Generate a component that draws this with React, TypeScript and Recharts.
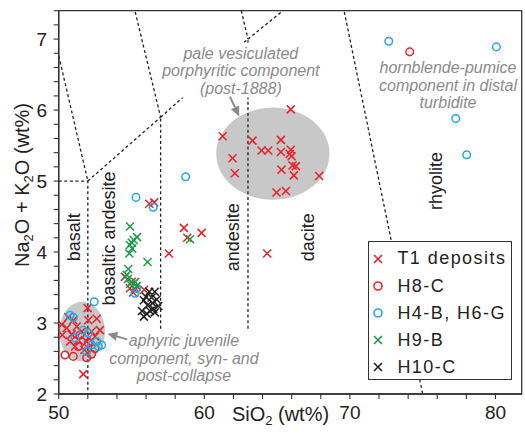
import React from 'react';
import {
  ScatterChart,
  Scatter,
  XAxis,
  YAxis,
  ReferenceLine,
  ReferenceArea,
  ReferenceDot,
  Legend,
  Label,
} from 'recharts';

const FONT = '"Liberation Sans", Arial, Helvetica, sans-serif';
const RED = '#e8212b';
const BLUE = '#2aa5df';
const GREEN = '#1c9a48';
const BLACK = '#231f20';
const GRAY_TEXT = '#8a8a8a';
const ELLIPSE_FILL = '#c8c8c8';
const AXIS = '#333333';

// ---- axes ----
const X_DOMAIN = [50, 81.8];
const Y_DOMAIN = [2, 7.4];
const xTicks = [50, 52, 54, 56, 58, 60, 62, 64, 66, 68, 70, 72, 74, 76, 78, 80];
const xTickLabels = [50, 60, 70, 80];
const yTicks = [
  2, 2.2, 2.4, 2.6, 2.8, 3, 3.2, 3.4, 3.6, 3.8, 4, 4.2, 4.4, 4.6, 4.8, 5, 5.2, 5.4,
  5.6, 5.8, 6, 6.2, 6.4, 6.6, 6.8, 7, 7.2, 7.4,
];
const yTickLabels = [2, 3, 4, 5, 6, 7];

// ---- series (SiO2 wt%, Na2O+K2O wt%) ----
const t1Deposits = [
  [51.99, 3.21], [50.66, 3.08], [51.0, 3.04], [50.21, 2.98], [52.03, 3.04], [52.61, 3.06],
  [50.55, 2.93], [51.24, 2.95], [51.58, 2.88], [50.25, 2.83], [50.89, 2.84], [52.26, 2.88],
  [52.83, 2.9], [50.78, 2.74], [51.35, 2.76], [51.92, 2.74], [52.49, 2.81], [51.12, 2.67],
  [51.76, 2.62], [51.69, 2.28],
  [56.22, 4.68], [56.56, 4.7], [54.55, 3.65], [55.01, 3.58], [54.89, 3.49], [55.24, 3.47],
  [55.87, 3.47], [55.12, 3.43],
  [58.6, 4.34], [59.81, 4.27], [58.83, 4.2], [57.57, 3.98], [64.32, 3.98],
  [65.94, 6.01], [61.26, 5.63], [63.31, 5.57], [65.26, 5.58], [63.93, 5.43], [64.39, 5.43],
  [65.26, 5.41], [65.94, 5.44], [65.87, 5.38], [66.0, 5.35], [61.94, 5.32], [62.1, 5.11],
  [65.3, 5.16], [66.06, 5.22], [66.29, 5.21], [66.15, 5.08], [67.89, 5.07], [64.96, 4.84],
  [65.6, 4.86],
];
const h8c = [
  [51.35, 2.67], [50.43, 2.55], [51.0, 2.53], [51.92, 2.51], [52.26, 2.56], [52.03, 2.72],
  [52.49, 2.64], [51.46, 2.83], [74.11, 6.82],
];
const h4bH6g = [
  [52.44, 3.3], [50.78, 3.11], [51.0, 3.08], [51.69, 2.9], [52.03, 2.86], [52.61, 2.74],
  [52.72, 2.67], [52.95, 2.69], [52.26, 2.69], [51.92, 2.6], [51.12, 2.79],
  [55.31, 4.77], [56.49, 4.63], [58.72, 5.06], [55.24, 3.42], [55.35, 3.49],
  [72.67, 6.97], [80.06, 6.89], [77.27, 5.88], [78.02, 5.37],
];
const h9b = [
  [54.9, 4.36], [55.38, 4.21], [55.15, 4.17], [55.02, 4.13], [54.88, 4.1], [55.05, 4.05],
  [54.85, 3.98], [56.1, 3.86], [59.02, 4.18], [54.78, 3.76], [54.67, 3.68], [55.25, 3.58],
  [54.9, 3.55], [55.35, 3.52], [54.75, 3.62],
];
const h10c = [
  [56.22, 3.44], [56.6, 3.44], [55.99, 3.37], [56.38, 3.36], [56.73, 3.33], [55.85, 3.32],
  [56.45, 3.28], [56.84, 3.24], [56.1, 3.25], [56.5, 3.2], [55.72, 3.17], [56.27, 3.17],
  [56.05, 3.13], [56.6, 3.15], [55.85, 3.09],
];

// ---- TAS field boundaries (Le Bas et al.) ----
const tasBoundaries = [
  [[45, 5], [52, 5]],
  [[52, 0], [52, 5]],
  [[57, 0], [57, 5.9]],
  [[63, 0], [63, 7]],
  [[52, 5], [57, 5.9]],
  [[57, 5.9], [63, 7]],
  [[63, 7], [69, 8]],
  [[49.4, 7.3], [52, 5]],
  [[53, 9.3], [57, 5.9]],
  [[57.6, 11.7], [63, 7]],
  [[69, 8], [77, 0]],
];

// ---- field names (rotated) ----
const fieldLabels = [
  { text: 'basalt', x: 51.05, y: 4.21 },
  { text: 'basaltic andesite', x: 53.42, y: 4.19 },
  { text: 'andesite', x: 61.94, y: 4.21 },
  { text: 'dacite', x: 67.11, y: 4.21 },
  { text: 'rhyolite', x: 75.9, y: 5.0 },
];

// ---- grey groupings ----
const groupEllipses = [
  { cx: 64.71, cy: 5.385, rx: 3.89, ry: 0.65 },
  { cx: 51.61, cy: 2.88, rx: 1.57, ry: 0.42 },
];

// ---- annotations ----
const annotations = [
  {
    lines: ['pale vesiculated', 'porphyritic component', '(post-1888)'],
    x: 62.51, y: 6.478, box: [-84, -33.5, 169, 55],
  },
  {
    lines: ['hornblende-pumice', 'component in distal', 'turbidite'],
    x: 76.74, y: 6.274, box: null,
  },
  {
    lines: ['aphyric juvenile', 'component, syn- and', 'post-collapse'],
    x: 58.6, y: 2.423, box: [-76, -33, 154, 61.5],
  },
];
const annotationArrows = [
  [[61.76, 6.19], [62.4, 5.91]],
  [[54.71, 2.77], [53.34, 2.85]],
];

const toPoints = (arr) => arr.map(([x, y]) => ({ x, y }));

const makeCross = (color, s = 4) => (props) => {
  const cx = props.cx;
  const cy = props.cy;
  if (cx == null || cy == null) return <g />;
  return (
    <g>
      <line x1={cx - s} y1={cy - s} x2={cx + s} y2={cy + s} stroke={color} strokeWidth={1.5} />
      <line x1={cx - s} y1={cy + s} x2={cx + s} y2={cy - s} stroke={color} strokeWidth={1.5} />
    </g>
  );
};
const makeCircle = (color, r = 3.8) => (props) => {
  const cx = props.cx;
  const cy = props.cy;
  if (cx == null || cy == null) return <g />;
  return <circle cx={cx} cy={cy} r={r} fill="none" stroke={color} strokeWidth={1.5} />;
};

const seriesList = [
  { name: 'T1 deposits', data: t1Deposits, color: RED, marker: 'cross' },
  { name: 'H8-C', data: h8c, color: RED, marker: 'circle' },
  { name: 'H4-B, H6-G', data: h4bH6g, color: BLUE, marker: 'circle' },
  { name: 'H9-B', data: h9b, color: GREEN, marker: 'cross' },
  { name: 'H10-C', data: h10c, color: BLACK, marker: 'cross' },
];

const isLabelled = (list, v) => list.some((t) => Math.abs(t - v) < 1e-6);

const EllipseShape = (props) => {
  const { x, y, width, height } = props;
  if ([x, y, width, height].some((v) => v == null || isNaN(v))) return <g />;
  return (
    <ellipse
      cx={x + width / 2}
      cy={y + height / 2}
      rx={Math.abs(width) / 2}
      ry={Math.abs(height) / 2}
      fill={ELLIPSE_FILL}
      stroke="none"
    />
  );
};

const ArrowShape = (props) => {
  const { x1, y1, x2, y2 } = props;
  if ([x1, y1, x2, y2].some((v) => v == null || isNaN(v))) return <g />;
  const dx = x2 - x1;
  const dy = y2 - y1;
  const len = Math.sqrt(dx * dx + dy * dy) || 1;
  const ux = dx / len;
  const uy = dy / len;
  const head = 10;
  const hw = 4.6;
  const bx = x2 - ux * head;
  const by = y2 - uy * head;
  return (
    <g>
      <line x1={x1} y1={y1} x2={bx} y2={by} stroke={GRAY_TEXT} strokeWidth={2} />
      <polygon
        points={`${x2},${y2} ${bx - uy * hw},${by + ux * hw} ${bx + uy * hw},${by - ux * hw}`}
        fill={GRAY_TEXT}
      />
    </g>
  );
};

const makeFieldLabel = (text) => (props) => {
  const { cx, cy } = props;
  if (cx == null || cy == null) return <g />;
  return (
    <text
      x={cx}
      y={cy}
      dy="0.36em"
      transform={`rotate(-90 ${cx} ${cy})`}
      textAnchor="middle"
      fontFamily={FONT}
      fontSize={18}
      fill="#222"
    >
      {text}
    </text>
  );
};

const makeAnnotation = (a) => (props) => {
  const { cx, cy } = props;
  if (cx == null || cy == null) return <g />;
  return (
    <g>
      {a.box && (
        <rect x={cx + a.box[0]} y={cy + a.box[1]} width={a.box[2]} height={a.box[3]} fill="#ffffff" />
      )}
      {a.lines.map((ln, i) => (
        <text
          key={i}
          x={cx}
          y={cy + (i - 1) * 17.5}
          textAnchor="middle"
          fontFamily={FONT}
          fontStyle="italic"
          fontSize={16}
          fill={GRAY_TEXT}
        >
          {ln}
        </text>
      ))}
    </g>
  );
};

const LegendIcon = ({ marker, color }) => (
  <svg width={12} height={12} style={{ display: 'block' }}>
    {marker === 'cross' ? (
      <g>
        <line x1={2} y1={2} x2={10} y2={10} stroke={color} strokeWidth={1.6} />
        <line x1={2} y1={10} x2={10} y2={2} stroke={color} strokeWidth={1.6} />
      </g>
    ) : (
      <circle cx={6} cy={6} r={4} fill="none" stroke={color} strokeWidth={1.6} />
    )}
  </svg>
);

const LegendBox = () => (
  <div
    style={{
      boxSizing: 'border-box',
      width: 143.4,
      height: 139.5,
      border: `1.3px solid ${AXIS}`,
      background: '#ffffff',
      paddingTop: 3.7,
      fontFamily: FONT,
    }}
  >
    {seriesList.map((s) => (
      <div key={s.name} style={{ display: 'flex', alignItems: 'center', height: 27.1 }}>
        <div style={{ marginLeft: 2.7, width: 12, height: 12 }}>
          <LegendIcon marker={s.marker} color={s.color} />
        </div>
        <span
          style={{
            marginLeft: 13.4,
            fontSize: 18,
            letterSpacing: 1.45,
            lineHeight: '27px',
            color: '#222',
            whiteSpace: 'nowrap',
          }}
        >
          {s.name}
        </span>
      </div>
    ))}
  </div>
);

const XTitle = (props) => {
  const vb = props.viewBox || { x: 58.7, y: 394, width: 463, height: 47 };
  const x = vb.x + vb.width / 2 - 9.7;
  const y = vb.y + 27;
  return (
    <text x={x} y={y} textAnchor="middle" fontFamily={FONT} fontSize={20} fill="#222">
      <tspan>SiO</tspan>
      <tspan fontSize={13} dy={4}>2</tspan>
      <tspan dy={-4}> (wt%)</tspan>
    </text>
  );
};

const YTitle = (props) => {
  const vb = props.viewBox || { x: 0, y: 10.7, width: 58.7, height: 383.3 };
  const x = vb.x + 29;
  const y = vb.y + 174.3;
  return (
    <text
      x={x}
      y={y}
      textAnchor="middle"
      transform={`rotate(-90 ${x} ${y})`}
      fontFamily={FONT}
      fontSize={20}
      fill="#222"
    >
      <tspan>Na</tspan>
      <tspan fontSize={13} dy={4}>2</tspan>
      <tspan dy={-4}>O + K</tspan>
      <tspan fontSize={13} dy={4}>2</tspan>
      <tspan dy={-4}>O (wt%)</tspan>
    </text>
  );
};

export default function App() {
  return (
    <div style={{ position: 'absolute', left: 0, top: 0, width: 525, height: 441, background: '#fff' }}>
      <ScatterChart
        width={525}
        height={441}
        margin={{ top: 10.7, right: 3.3, bottom: 0, left: 0 }}
      >
        <XAxis
          type="number"
          dataKey="x"
          domain={X_DOMAIN}
          allowDataOverflow
          ticks={xTicks}
          interval={0}
          height={47}
          tickSize={5}
          tickMargin={7}
          tickFormatter={(v) => (isLabelled(xTickLabels, v) ? String(v) : '')}
          tick={{ fill: '#222', fontSize: 19, fontFamily: FONT }}
          axisLine={{ stroke: AXIS, strokeWidth: 1.3 }}
          tickLine={{ stroke: AXIS, strokeWidth: 1.1 }}
        >
          <Label content={XTitle} />
        </XAxis>
        <YAxis
          type="number"
          dataKey="y"
          domain={Y_DOMAIN}
          allowDataOverflow
          ticks={yTicks}
          interval={0}
          width={58.7}
          tickSize={5}
          tickMargin={6.5}
          tickFormatter={(v) => (isLabelled(yTickLabels, v) ? String(Math.round(v)) : '')}
          tick={{ fill: '#222', fontSize: 19, fontFamily: FONT }}
          axisLine={{ stroke: AXIS, strokeWidth: 1.3 }}
          tickLine={{ stroke: AXIS, strokeWidth: 1.1 }}
        >
          <Label content={YTitle} />
        </YAxis>

        {groupEllipses.map((e, i) => (
          <ReferenceArea
            key={`ell-${i}`}
            x1={e.cx - e.rx}
            x2={e.cx + e.rx}
            y1={e.cy - e.ry}
            y2={e.cy + e.ry}
            ifOverflow="visible"
            shape={EllipseShape}
            zIndex={50}
          />
        ))}

        {tasBoundaries.map((seg, i) => (
          <ReferenceLine
            key={`tas-${i}`}
            segment={[{ x: seg[0][0], y: seg[0][1] }, { x: seg[1][0], y: seg[1][1] }]}
            ifOverflow="hidden"
            stroke="#222"
            strokeWidth={1.3}
            strokeDasharray="3 2.6"
            zIndex={60}
          />
        ))}

        <ReferenceArea
          x1={X_DOMAIN[0]}
          x2={X_DOMAIN[1]}
          y1={Y_DOMAIN[0]}
          y2={Y_DOMAIN[1]}
          fill="none"
          fillOpacity={0}
          stroke={AXIS}
          strokeWidth={1.3}
          strokeOpacity={1}
          ifOverflow="visible"
          zIndex={70}
        />

        {seriesList.map((s) => (
          <Scatter
            key={s.name}
            name={s.name}
            data={toPoints(s.data)}
            isAnimationActive={false}
            shape={s.marker === 'cross' ? makeCross(s.color) : makeCircle(s.color)}
            legendType="none"
          />
        ))}

        {fieldLabels.map((f) => (
          <ReferenceDot
            key={f.text}
            x={f.x}
            y={f.y}
            r={0}
            ifOverflow="visible"
            shape={makeFieldLabel(f.text)}
            zIndex={700}
          />
        ))}

        {annotations.map((a, i) => (
          <ReferenceDot
            key={`ann-${i}`}
            x={a.x}
            y={a.y}
            r={0}
            ifOverflow="visible"
            shape={makeAnnotation(a)}
            zIndex={710}
          />
        ))}

        {annotationArrows.map((seg, i) => (
          <ReferenceLine
            key={`arr-${i}`}
            segment={[{ x: seg[0][0], y: seg[0][1] }, { x: seg[1][0], y: seg[1][1] }]}
            ifOverflow="visible"
            shape={ArrowShape}
            zIndex={720}
          />
        ))}

        <Legend
          layout="horizontal"
          verticalAlign="middle"
          align="center"
          content={() => <LegendBox />}
          wrapperStyle={{ left: 368.3, top: 240.7, width: 143.4, height: 139.5, bottom: 'auto', right: 'auto' }}
        />
      </ScatterChart>
    </div>
  );
}
